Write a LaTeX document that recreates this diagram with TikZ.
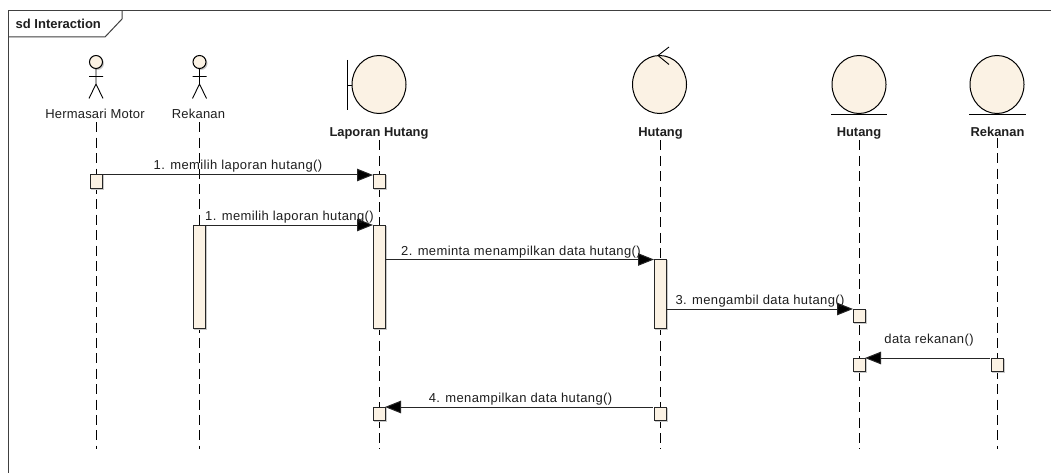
\documentclass[tikz,border=0pt]{standalone}
\usepackage{fontspec}
\setmainfont{Liberation Sans}
\newfontfamily\spaced[LetterSpace=3]{Liberation Sans}
\newfontfamily\spacedb[LetterSpace=1.5]{Liberation Sans}
\usetikzlibrary{arrows.meta}
\definecolor{fillc}{HTML}{FBF2E4}
\definecolor{shadowc}{HTML}{C8C8C8}
\tikzset{
  x=1pt,y=-1pt,
  every node/.style={font=\spacedb\fontsize{13}{14}\selectfont,text=black!88,inner sep=0pt},
  boldlabel/.style={font=\fontsize{12.9}{14}\selectfont\bfseries},
  msglabel/.style={font=\spaced\fontsize{13}{14}\selectfont,anchor=base},
  sym/.style={draw=black,line width=1pt,fill=fillc},
  stick/.style={draw=black,line width=0.9pt},
  life/.style={draw=black,line width=1pt,dash pattern=on 10pt off 5.4pt},
  bar/.style={draw=black!85,line width=1pt,fill=fillc,minimum width=12pt,
    inner sep=0pt,outer sep=0pt,anchor=north,
    preaction={draw=shadowc,line width=1pt,transform canvas={xshift=1pt,yshift=-1pt}}},
  msg/.style={draw=black!85,line width=1pt,-{Triangle[length=16pt,width=12.5pt,fill=black]},shorten <=1pt},
  frameline/.style={draw=black!75,line width=1pt},
}
\begin{document}
\begin{tikzpicture}
\useasboundingbox[fill=white] (0,0) rectangle (1051,473);
% frame
\draw[frameline] (8,473) -- (8,11) -- (1051,11);
\draw[frameline] (8,37) -- (105,37) -- (122,19) -- (122,11);
\node[anchor=base west,font=\fontsize{13}{14}\selectfont\bfseries] (frametitle) at (15.5,28.5) {sd Interaction};

% labels
\node[anchor=base] (l1) at (95,119) {Hermasari Motor};
\node[anchor=base] (l2) at (198.5,119) {Rekanan};
\node[boldlabel,anchor=base] (l3) at (379,136.5) {Laporan Hutang};
\node[boldlabel,anchor=base] (l4) at (660.5,136.5) {Hutang};
\node[boldlabel,anchor=base] (l5) at (859,136.5) {Hutang};
\node[boldlabel,anchor=base] (l6) at (997.5,136.5) {Rekanan};

% lifeline ends
\coordinate (e1) at (96,449);
\coordinate (e2) at (199,449);
\coordinate (e3) at (379,449);
\coordinate (e4) at (660,449);
\coordinate (e5) at (859,449);
\coordinate (e6) at (997,449);
\draw[life] (e1 |- l1.south) ++(0,3) -- (e1);
\draw[life] (e2 |- l2.south) ++(0,3) -- (e2);
\draw[life] (e3 |- l3.south) ++(0,1) -- (e3);
\draw[life] (e4 |- l4.south) ++(0,1) -- (e4);
\draw[life] (e5 |- l5.south) ++(0,1) -- (e5);
\draw[life] (e6 |- l6.south) ++(0,1) -- (e6);

% actors
\foreach \cx in {96,199.5}{
  \fill[shadowc] (\cx+1.5,63.5) circle (6.5);
  \draw[sym] (\cx,62) circle (6.5);
  \draw[stick] (\cx,68.5) -- (\cx,84) (\cx-7,76.5) -- (\cx+7,76.5)
    (\cx-7,98.5) -- (\cx,84) -- (\cx+7,98.5);
}
% boundary
\draw[sym] (379,84.5) ellipse (27 and 29);
\draw[stick] (347,60) -- (347,110.5) (347,85) -- (352,85);
% control
\draw[sym] (659.5,84.5) ellipse (27 and 29);
\draw[stick] (669,47) -- (658,55.5) -- (669,64.5);
% entities
\draw[sym] (859,84.5) ellipse (27 and 29);
\draw[stick] (831,114.5) -- (887,114.5);
\draw[sym] (997,84.5) ellipse (27 and 29);
\draw[stick] (969,114.5) -- (1025.5,114.5);

% activations
\node[bar,minimum height=13pt] (b1) at (96,175) {};
\node[bar,minimum height=13pt] (b3) at (379,175) {};
\node[bar,minimum height=103pt] (r2) at (199,225) {};
\node[bar,minimum height=103pt] (r3) at (379,225) {};
\node[bar,minimum height=69pt] (h4) at (660,259.5) {};
\node[bar,minimum height=13pt] (e5a) at (859,309) {};
\node[bar,minimum height=13pt] (e5b) at (859,358) {};
\node[bar,minimum height=13pt] (e6b) at (997,358) {};
\node[bar,minimum height=13pt] (b3b) at (379,407) {};
\node[bar,minimum height=13pt] (b4b) at (660,407) {};

% messages
\draw[msg] (b1.north east) -- (b3.north west);
\draw[msg] (r2.north east) -- (r3.north west);
\draw[msg] (r3.east |- h4.north west) -- (h4.north west);
\draw[msg] (h4.east |- e5a.north west) -- (e5a.north west);
\draw[msg] (e6b.north west) -- (e5b.north east);
\draw[msg] (b4b.north west) -- (b3b.north east);

% message labels
\node[msglabel] (m1) at (238,170) {1. memilih laporan hutang()};
\node[msglabel] (m2) at (289.5,220) {1. memilih laporan hutang()};
\node[msglabel] (m3) at (521,255) {2. meminta menampilkan data hutang()};
\node[msglabel] (m4) at (760,304) {3. mengambil data hutang()};
\node[msglabel] (m5) at (929,343) {data rekanan()};
\node[msglabel] (m6) at (520.5,402) {4. menampilkan data hutang()};
\end{tikzpicture}
\end{document}
